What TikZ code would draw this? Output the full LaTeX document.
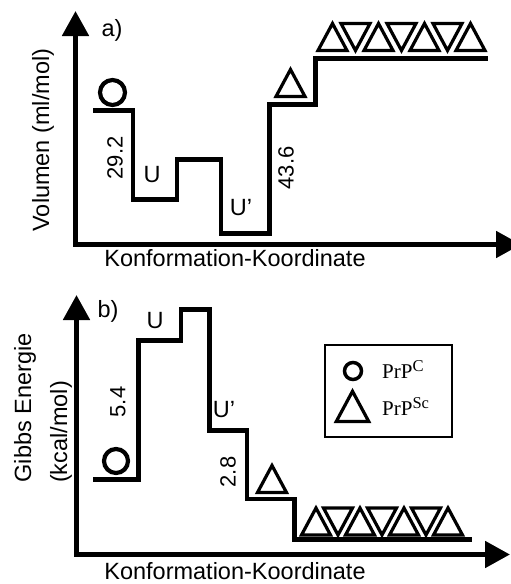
\documentclass[tikz,border=0pt]{standalone}
\usepackage{fontspec}
\setmainfont{Liberation Sans}
\newfontfamily\legendfont{Liberation Serif}
\usetikzlibrary{arrows.meta}

\tikzset{
  axisline/.style={line width=5pt, line join=miter,
    {Triangle[length=25pt,width=26pt]}-{Triangle[length=25pt,width=26pt]}},
  level/.style={line width=4.5pt, line join=miter},
  tri/.style={line width=3.2pt, line join=miter},
  ring/.style={line width=4.2pt},
  lab/.style={inner sep=0pt, font=\fontsize{23.5}{28}\selectfont},
  num/.style={inner sep=0pt, font=\fontsize{22}{26}\selectfont, rotate=90},
  legtext/.style={inner sep=0pt, anchor=base west, font=\legendfont\fontsize{21}{25}\selectfont},
  uptri/.pic={\draw[tri] (-14.5,0) -- (14.5,0) -- (0,-27) -- cycle;},
  downtri/.pic={\draw[tri] (-14.5,0) -- (14.5,0) -- (0,27) -- cycle;},
}
\newcommand{\supsc}[1]{\raisebox{6.5pt}{\fontsize{16.5}{17}\selectfont #1}}

\begin{document}
\begin{tikzpicture}[x=1pt,y=-1pt]
\useasboundingbox (0,0) rectangle (511,584);
\path[clip] (0,0) rectangle (511,584);

% ---------- panel a: volume ----------
\draw[axisline] (75.5,11) -- (75.5,244.5) -- (521,244.5);
\node[lab] (la) at (112,30) {a)};
\node[lab, rotate=90] (ya) at (43,140) {Volumen (ml/mol)};
\node[lab] (xa) at (235,258) {Konformation-Koordinate};

\draw[level] (93,110.5) -| (133,199.5) -| (177,159.5) -| (221,233.5)
  -| (269.5,104.5) -| (315.5,58.5) -- (488,58.5);

\draw[ring] (112.5,92.5) circle[radius=12.5];
\pic at (290.5,96.5) {uptri};
\foreach \x in {332.5,378.5,424.5,470.5} \pic at (\x,50.5) {uptri};
\foreach \x in {355.5,401.5,447.5} \pic at (\x,23.5) {downtri};

\node[num] (va) at (115,158) {29.2};
\node[lab] (ua) at (152,175) {U};
\node[lab] (upa) at (241,208) {U’};
\node[num] (vb) at (286,168) {43.6};

% ---------- panel b: Gibbs energy ----------
\draw[axisline] (76.5,295) -- (76.5,554.5) -- (510,554.5);
\node[lab] (lb) at (108,311) {b)};
\node[lab, rotate=90] (yb1) at (25,408) {Gibbs Energie};
\node[lab, rotate=90] (yb2) at (61,432) {(kcal/mol)};
\node[lab] (xb) at (235,571) {Konformation-Koordinate};

\draw[level] (93,479.5) -| (138.5,340.5) -| (181,309.5) -| (209.5,430.5)
  -| (247,499) -| (294.5,539.5) -- (472,539.5);

\draw[ring] (116,461) circle[radius=12];
\pic at (272,492.5) {uptri};
\foreach \x in {316,360,404,448} \pic at (\x,535) {uptri};
\foreach \x in {338,382,426} \pic at (\x,508) {downtri};

\node[lab] (ub) at (155,321) {U};
\node[num] (eb) at (118,402) {5.4};
\node[lab] (upb) at (224,410) {U’};
\node[num] (ec) at (228,472) {2.8};

% ---------- legend ----------
\draw[line width=2pt] (325,345) rectangle (452,437);
\draw[line width=3.5pt] (353,371) circle[radius=8.5];
\pic[scale=1.12] at (352.5,421.5) {uptri};
\node[legtext] (lc) at (382,378) {PrP\supsc{C}};
\node[legtext] (lsc) at (382,415) {PrP\supsc{Sc}};
\end{tikzpicture}
\end{document}
